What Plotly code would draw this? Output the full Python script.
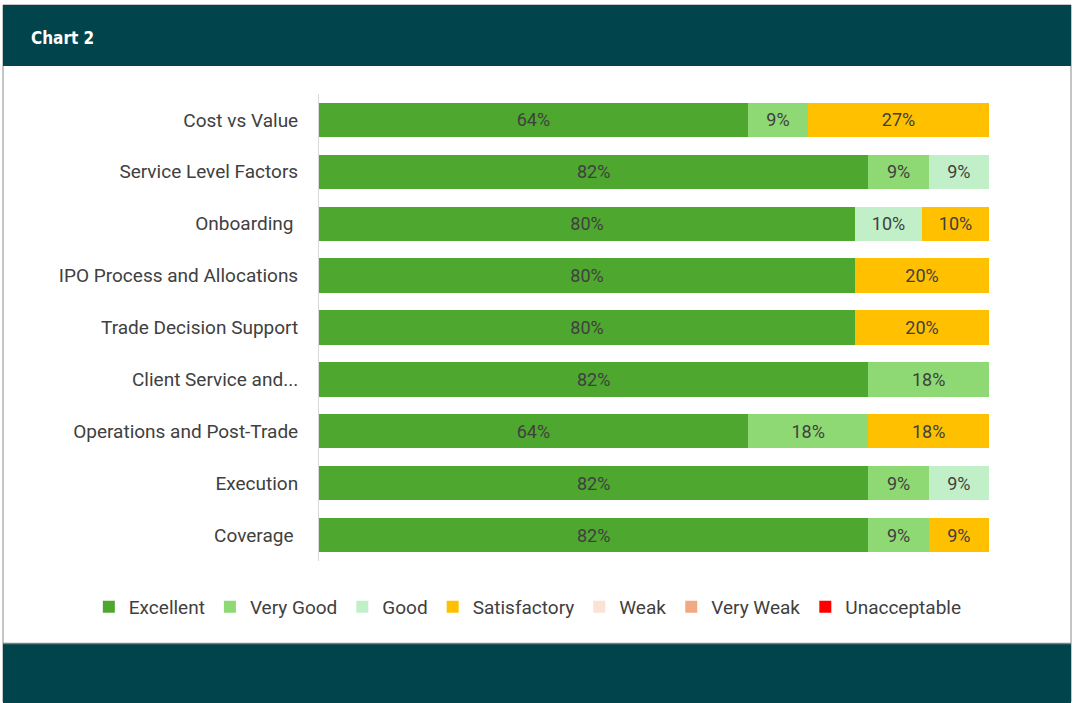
import plotly.graph_objects as go

categories = ["Cost vs Value", "Service Level Factors", "Onboarding ", "IPO Process and Allocations",
              "Trade Decision Support", "Client Service and...", "Operations and Post-Trade",
              "Execution", "Coverage "]
series_names = ["Excellent", "Very Good", "Good", "Satisfactory", "Weak", "Very Weak", "Unacceptable"]
excellent = [64, 82, 80, 80, 80, 82, 64, 82, 82]
very_good = [9, 9, 0, 0, 0, 18, 18, 9, 9]
good = [0, 9, 10, 0, 0, 0, 0, 9, 0]
satisfactory = [27, 0, 10, 20, 20, 0, 18, 0, 9]
weak = [0, 0, 0, 0, 0, 0, 0, 0, 0]
very_weak = [0, 0, 0, 0, 0, 0, 0, 0, 0]
unacceptable = [0, 0, 0, 0, 0, 0, 0, 0, 0]

colors = ["#4EA72E", "#8ED973", "#C1F0C8", "#FFC000", "#FBE2D5", "#F1A983", "#FF0000"]
values = [excellent, very_good, good, satisfactory, weak, very_weak, unacceptable]

FONT = "Roboto"
W, H = 1075, 703

fig = go.Figure()
for name, vals, col in zip(series_names, values, colors):
    fig.add_trace(go.Bar(
        y=categories, x=vals, name=name, orientation="h",
        marker=dict(color=col, line=dict(width=0)),
        text=[f"{v}%" if v else "" for v in vals],
        textposition="inside", insidetextanchor="middle",
        textfont=dict(family=FONT, size=18, color="#404040"),
        hoverinfo="skip",
    ))

def px_x(p):
    return p / W

def px_y(p):
    return 1 - p / H

shapes = [
    # outer frame
    dict(type="rect", xref="paper", yref="paper", x0=px_x(3), x1=px_x(1071), y0=px_y(702), y1=px_y(5),
         line=dict(color="#8C8C8C", width=1), fillcolor="rgba(0,0,0,0)", layer="below"),
    # header
    dict(type="rect", xref="paper", yref="paper", x0=px_x(3), x1=px_x(1071), y0=px_y(66), y1=px_y(5),
         line=dict(width=0), fillcolor="#02444C", layer="below"),
    # footer
    dict(type="rect", xref="paper", yref="paper", x0=px_x(3), x1=px_x(1071), y0=0, y1=px_y(644),
         line=dict(width=0), fillcolor="#02444C", layer="below"),
    dict(type="line", xref="paper", yref="paper", x0=px_x(3), x1=px_x(1071), y0=px_y(643.5), y1=px_y(643.5),
         line=dict(color="#7F7F7F", width=1.5)),
]

fig.update_layout(
    width=W, height=H,
    margin=dict(l=0, r=0, t=0, b=0),
    paper_bgcolor="white", plot_bgcolor="white",
    barmode="stack", bargap=0.34,
    shapes=shapes,
    annotations=[dict(text="<b>Chart 2</b>", xref="paper", yref="paper", x=px_x(29), y=px_y(38),
                      xanchor="left", yanchor="middle", showarrow=False,
                      font=dict(family="DejaVu Sans Condensed", size=17, color="white"))],
    xaxis=dict(domain=[px_x(319), px_x(989)], range=[0, 100], showgrid=False, zeroline=False,
               showticklabels=False, showline=False),
    yaxis=dict(domain=[px_y(561), px_y(94)], categoryorder="array", categoryarray=categories,
               autorange="reversed", showgrid=False, showline=True, linecolor="#D9D9D9", linewidth=1,
               ticks="", ticklabelstandoff=16,
               tickfont=dict(family=FONT, size=19, color="#404040")),
    legend=dict(orientation="h", x=0.491, xanchor="center", y=px_y(607), yanchor="middle",
                font=dict(family=FONT, size=19, color="#404040"), traceorder="normal",
                itemwidth=30),
    uniformtext=dict(mode=False),
)

fig.write_html("out.html", config={"displayModeBar": False},
               post_script="document.body.style.margin='0';document.body.style.padding='0';")
